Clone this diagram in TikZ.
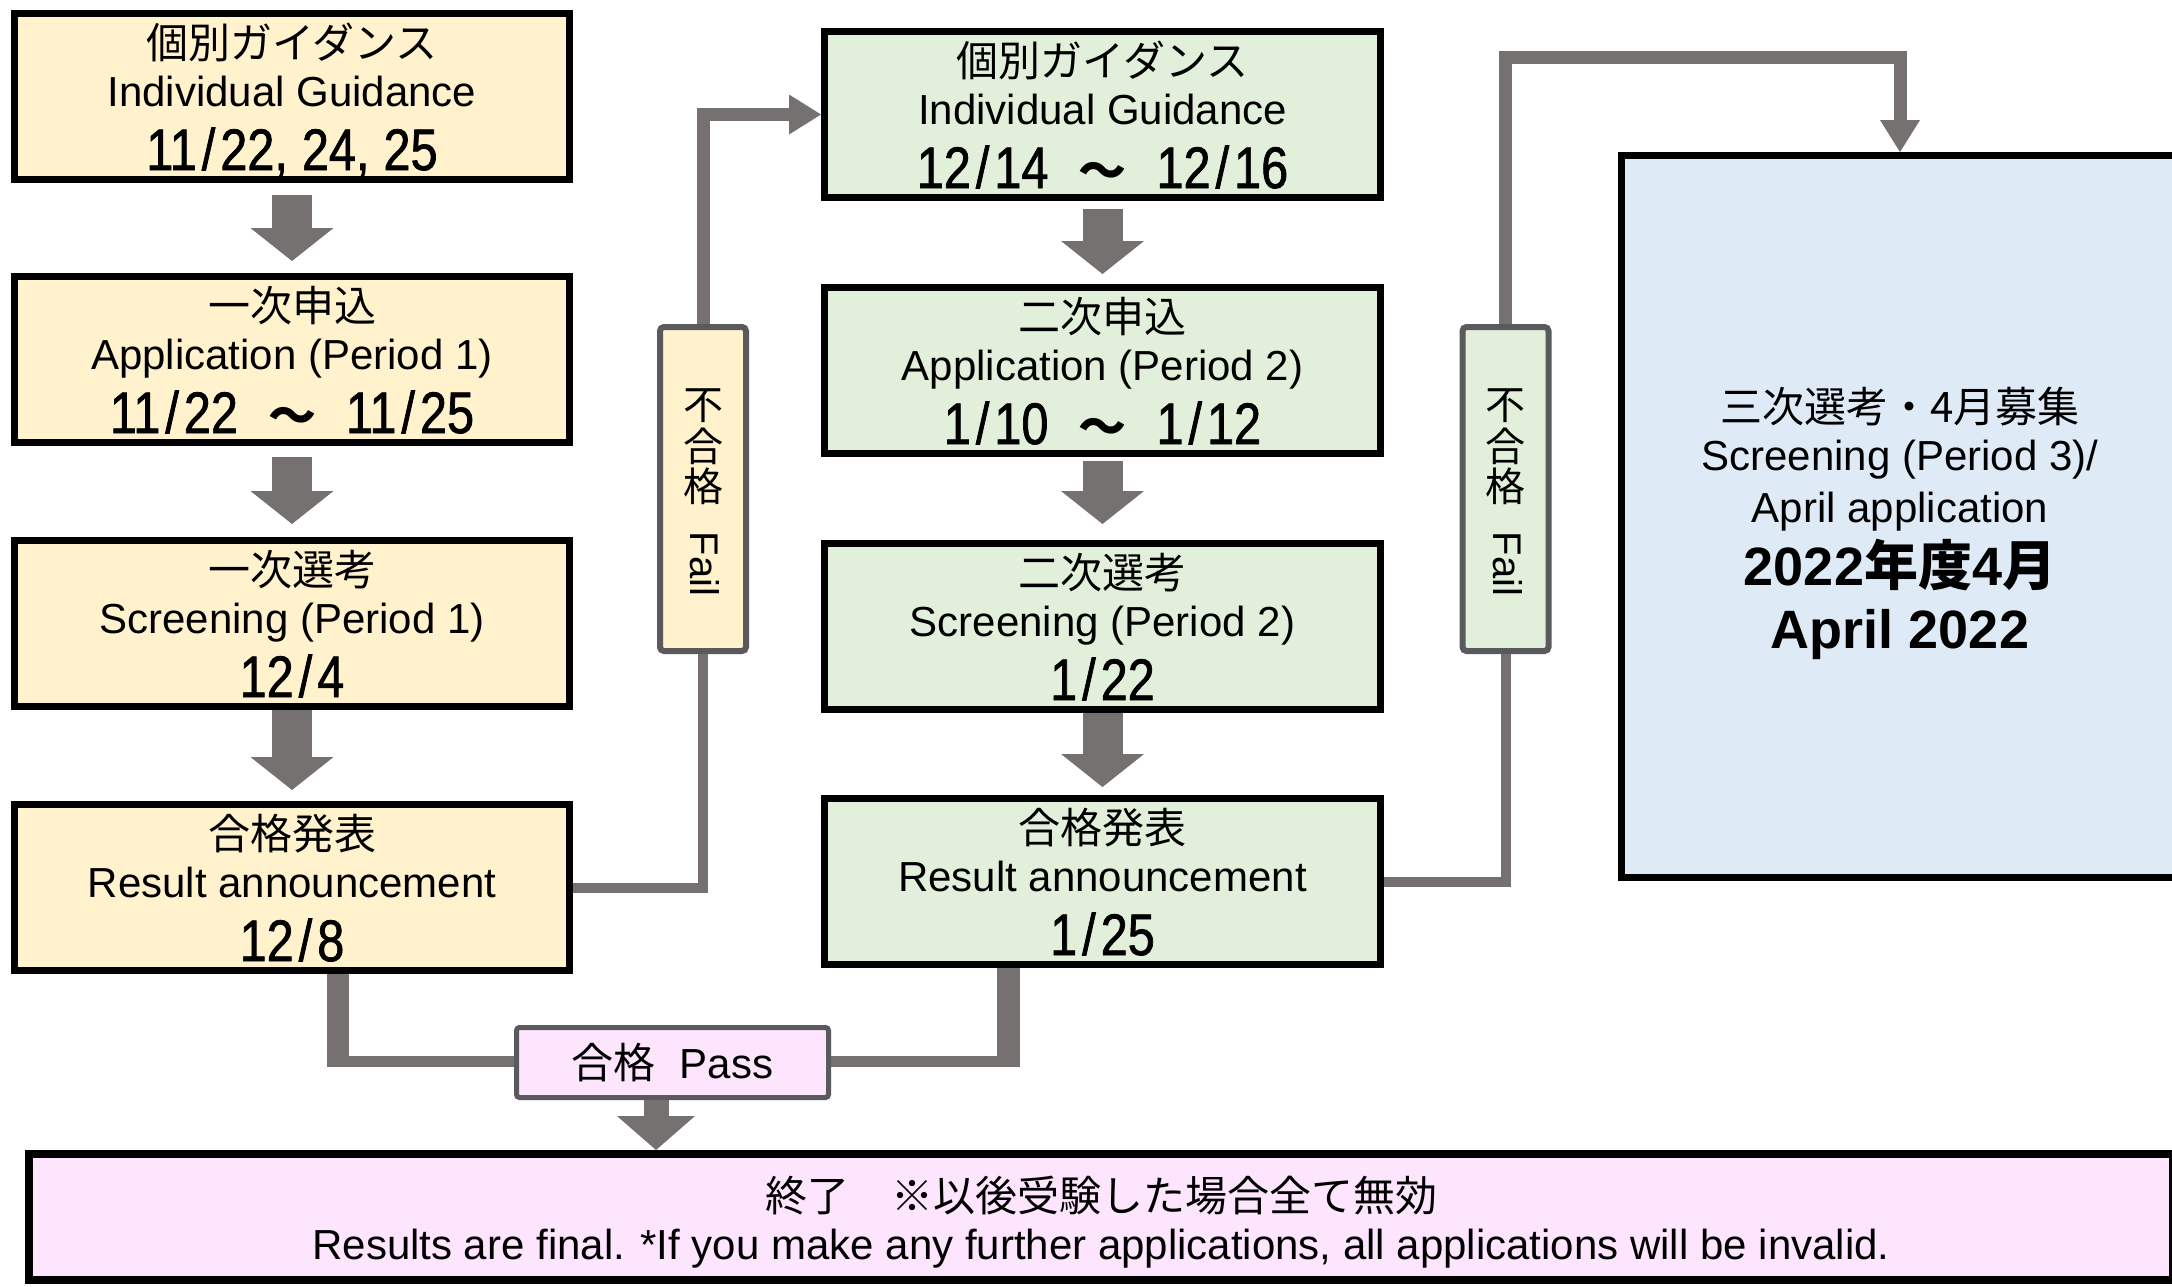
\documentclass[tikz,border=0pt]{standalone}
\usepackage{fontspec}
\setmainfont{Liberation Sans}
\newfontfamily\jp{Noto Sans CJK JP}
\newfontfamily\datefont[FakeStretch=0.83,FakeBold=1.2]{Liberation Sans}
\usetikzlibrary{arrows.meta,calc}
\definecolor{yel}{HTML}{FFF2CC}
\definecolor{grn}{HTML}{E2EFDA}
\definecolor{blu}{HTML}{DEEBF7}
\definecolor{pnk}{HTML}{FDE5FD}
\definecolor{lgray}{HTML}{767171}
\definecolor{dgray}{HTML}{5A5A5E}
\newcommand{\dsl}{\kern2.5pt/\kern2.5pt}
\newcommand{\wv}{\hspace{15pt}{\jp\bfseries\fontsize{24}{24}\selectfont ～}\hspace{15pt}}
\newcommand{\flowbox}[7]{%
  \node[#2, anchor=north] (#1) at (#3,#4) {};
  \node[jtxt] (#1j) at ($(#1.north)+(0,48)$) {#5};
  \node[txt] (#1e) at ($(#1.north)+(0,96)$) {#6};
  \node[dtxt] (#1d) at ($(#1.north)+(0,160)$) {#7};}
\tikzset{
  txt/.style={inner sep=0pt, anchor=base, font=\fontsize{21}{25}\selectfont},
  jtxt/.style={txt, font=\jp\fontsize{21}{25}\selectfont},
  dtxt/.style={txt, font=\datefont\fontsize{29.3}{32}\selectfont},
  boxbase/.style={draw=black, line width=3.5pt, inner sep=0pt, minimum width=277.5pt, minimum height=83pt},
  ybox/.style={boxbase, fill=yel},
  gbox/.style={boxbase, fill=grn, minimum width=278pt},
  bbox/.style={draw=black, line width=3.5pt, inner sep=0pt, fill=blu, minimum width=278.5pt, minimum height=361pt},
  pbox/.style={draw=black, line width=4pt, inner sep=0pt, fill=pnk, minimum width=1072pt, minimum height=63pt},
  fbox/.style={draw=dgray, line width=3pt, rounded corners=2pt, inner sep=0pt, minimum width=43pt, minimum height=162pt},
  passbox/.style={draw=dgray, line width=2.5pt, rounded corners=1.5pt, inner sep=0pt, fill=pnk, minimum width=156pt, minimum height=35pt},
  vj/.style={inner sep=0pt, font=\jp\fontsize{20}{20}\selectfont},
  vf/.style={inner sep=0pt, rotate=-90, font=\fontsize{20}{20}\selectfont},
  blk/.style={draw=lgray, line width=20pt, -{Triangle[width=41.5pt,length=16.5pt,line width=0pt]}},
  blksmall/.style={draw=lgray, line width=12.5pt, -{Triangle[width=39pt,length=17pt,line width=0pt]}},
  fl/.style={draw=lgray, line width=5pt},
  fla/.style={draw=lgray, line width=6.5pt, -{Triangle[width=20pt,length=16pt,line width=0pt]}},
  pl/.style={draw=lgray},
}
\begin{document}
\begin{tikzpicture}[x=0.5pt,y=-0.5pt]
\useasboundingbox (0,0) rectangle (2172,1286);
\fill[white] (0,0) rectangle (2172,1286);

% left column
\flowbox{b1}{ybox}{292}{10}{個別ガイダンス}{Individual Guidance}{11\dsl 22,\hspace{7pt}24,\hspace{7pt}25}
\flowbox{b2}{ybox}{292}{273}{一次申込}{Application (Period 1)}{11\dsl 22\wv 11\dsl 25}
\flowbox{b3}{ybox}{292}{537}{一次選考}{Screening (Period 1)}{12\dsl 4}
\flowbox{b4}{ybox}{292}{801}{合格発表}{Result announcement}{12\dsl 8}

% middle column
\flowbox{g1}{gbox}{1102.5}{28}{個別ガイダンス}{Individual Guidance}{12\dsl 14\wv 12\dsl 16}
\flowbox{g2}{gbox}{1102.5}{284}{二次申込}{Application (Period 2)}{1\dsl 10\wv 1\dsl 12}
\flowbox{g3}{gbox}{1102.5}{540}{二次選考}{Screening (Period 2)}{1\dsl 22}
\flowbox{g4}{gbox}{1102.5}{795}{合格発表}{Result announcement}{1\dsl 25}

% right box
\node[bbox, anchor=north] (blue) at (1900,152) {};
\node[jtxt] (bl1) at (1900,422) {三次選考・4月募集};
\node[txt] (bl2) at (1900,470) {Screening (Period 3)/};
\node[txt] (bl3) at (1900,522) {April application};
\node[txt, font=\bfseries\fontsize{27}{30}\selectfont] (bl4) at (1900,585) {2022{\jp 年度}4{\jp 月}};
\node[txt, font=\bfseries\fontsize{27}{30}\selectfont] (bl5) at (1900,648) {April 2022};

% bottom box
\node[pbox, anchor=north] (pink) at (1101,1150) {};
\node[jtxt] (pk1) at (1101,1211) {終了　※以後受験した場合全て無効};
\node[txt] (pk2) at (1101,1259) {Results are final. *If you make any further applications, all applications will be invalid.};

% fail boxes
\node[fbox, fill=yel, anchor=north] (f1) at (703,324) {};
\node[vj] (f1a) at (703,406) {不};
\node[vj] (f1b) at (703,446) {合};
\node[vj] (f1c) at (703,486) {格};
\node[vf] (f1d) at (705,564) {Fail};
\node[fbox, fill=grn, anchor=north] (f2) at (1505.5,324) {};
\node[vj] (f2a) at (1505.5,406) {不};
\node[vj] (f2b) at (1505.5,446) {合};
\node[vj] (f2c) at (1505.5,486) {格};
\node[vf] (f2d) at (1507.5,564) {Fail};

% pass box
\node[passbox, anchor=north] (pass) at (672.5,1025) {};
\node[txt] (passt) at (672.5,1078) {{\jp 合格}\hspace{12pt}Pass};

% block arrows
\draw[blk] ([yshift=-6pt]b1.south) -- ([yshift=6pt]b2.north);
\draw[blk] ([yshift=-5.5pt]b2.south) -- ([yshift=6.5pt]b3.north);
\draw[blk] (b3.south) -- ([yshift=5.5pt]b4.north);
\draw[blk] ([yshift=-4pt]g1.south) -- ([yshift=5pt]g2.north);
\draw[blk] ([yshift=-2pt]g2.south) -- ([yshift=8pt]g3.north);
\draw[blk] (g3.south) -- ([yshift=4pt]g4.north);

% fail connectors
\draw[fl] (b4.east) -| (f1.south);
\draw[fla] (f1.north) |- (g1.west);
\draw[fl] (g4.east) -| (f2.south);
\coordinate (tr) at (1900,57);
\draw[fla] (f2.north) |- (tr) -- (blue.north);

% pass connectors
\coordinate (pl) at (338,1061);
\coordinate (pr) at (1008,1061);
\draw[pl, line width=11pt] (b4.south -| pl) -- ([yshift=-2.75pt]pl);
\draw[pl, line width=5.5pt] ([xshift=-5.5pt]pl) -- (pass.west |- pl);
\draw[pl, line width=11.5pt] (g4.south -| pr) -- ([yshift=-2.75pt]pr);
\draw[pl, line width=5.5pt] ([xshift=5.75pt]pr) -- (pass.east |- pr);
\coordinate (pa) at (656,1100);
\draw[blksmall] (pass.south -| pa) -- (pink.north -| pa);
\end{tikzpicture}
\end{document}
